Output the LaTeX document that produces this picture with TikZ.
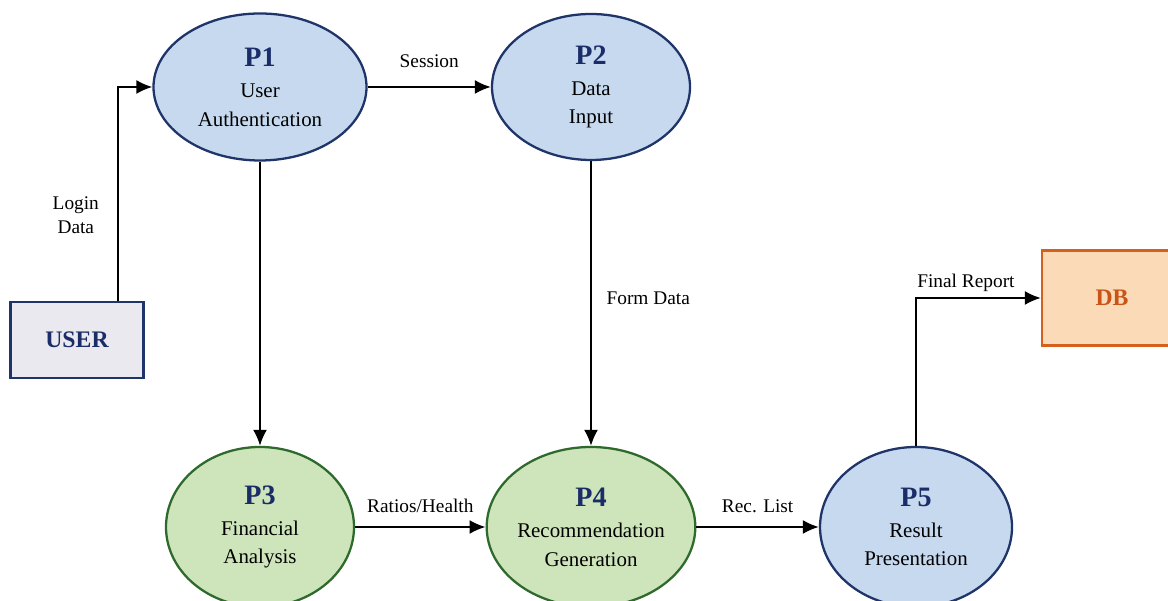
\documentclass[tikz,border=0pt]{standalone}
\usepackage{fontspec}
\setmainfont{Liberation Serif}
\newfontfamily\dfdserif{Liberation Serif}
\definecolor{dfdNavy}{RGB}{31, 52, 104}
\definecolor{dfdBlue}{RGB}{198, 217, 239}
\definecolor{dfdGreen}{RGB}{206, 229, 188}
\definecolor{dfdLeaf}{RGB}{46, 106, 44}
\definecolor{dfdTitle}{RGB}{27, 45, 105}
\definecolor{dfdGray}{RGB}{233, 233, 239}
\definecolor{dfdPeach}{RGB}{251, 218, 184}
\definecolor{dfdOrange}{RGB}{212, 96, 28}
\definecolor{dfdRust}{RGB}{200, 84, 24}
\usetikzlibrary{shapes.geometric, arrows.meta, positioning, calc}
\tikzset{
  proc/.style={ellipse, draw=#1, line width=1.3pt, align=center, font=\dfdserif\fontsize{11.9}{16}\selectfont, inner sep=0pt},
  blueproc/.style={proc=dfdNavy, fill=dfdBlue},
  greenproc/.style={proc=dfdLeaf, fill=dfdGreen},
  entity/.style={rectangle, draw=#1, line width=1.3pt, align=center, font=\rmfamily\fontsize{13.5}{16}\selectfont\bfseries},
  flowarrow/.style={-{Latex[length=3.2mm, width=2.8mm]}, line width=1.1pt, black},
  flowlabel/.style={font=\rmfamily\fontsize{11}{14}\selectfont, align=center},
}
\newcommand{\ptext}[2]{{\fontsize{16}{18}\selectfont\bfseries\color{dfdTitle}#1}\\[2pt]#2}

\begin{document}
\begin{tikzpicture}
  \useasboundingbox (0,0) rectangle (23.36,12.02);

  \node[blueproc, minimum width=4.26cm, minimum height=2.94cm] (p1) at (5.2, 10.28) {\ptext{P1}{User\\Authentication}};
  \node[blueproc, minimum width=3.96cm, minimum height=2.92cm] (p2) at (11.82, 10.28) {\ptext{P2}{Data\\Input}};
  \node[greenproc, minimum width=3.76cm, minimum height=3.2cm] (p3) at (5.2, 1.48) {\ptext{P3}{Financial\\Analysis}};
  \node[greenproc, minimum width=3.72cm, minimum height=3.2cm] (p4) at (11.82, 1.48) {\ptext{P4}{Recommendation\\Generation}};
  \node[blueproc, minimum width=3.84cm, minimum height=3.2cm] (p5) at (18.32, 1.48) {\ptext{P5}{Result\\Presentation}};

  \node[entity=dfdNavy, fill=dfdGray, text=dfdTitle, minimum width=2.66cm, minimum height=1.52cm] (user) at (1.54, 5.22) {USER};
  \node[entity=dfdOrange, fill=dfdPeach, text=dfdRust, minimum width=2.8cm, minimum height=1.9cm] (db) at (22.24, 6.06) {DB};

  \draw[flowarrow] ([xshift=0.82cm]user.north) |- node[flowlabel, pos=0.2, left=7pt] {Login\\Data} (p1.west);
  \draw[flowarrow] (p1) -- node[flowlabel, above=7pt] {Session} (p2);
  \draw[flowarrow] (p1) -- (p3);
  \draw[flowarrow] (p2) -- node[flowlabel, pos=0.48, right=5pt] {Form Data} (p4);
  \draw[flowarrow] (p3) -- node[flowlabel, above=4pt] {Ratios/Health} (p4);
  \draw[flowarrow] (p4) -- node[flowlabel, above=4pt] {Rec. List} (p5);
  \draw[flowarrow] (p5.north) |- node[flowlabel, pos=0.7, above=0pt] {Final Report} (db.west);
\end{tikzpicture}
\end{document}
